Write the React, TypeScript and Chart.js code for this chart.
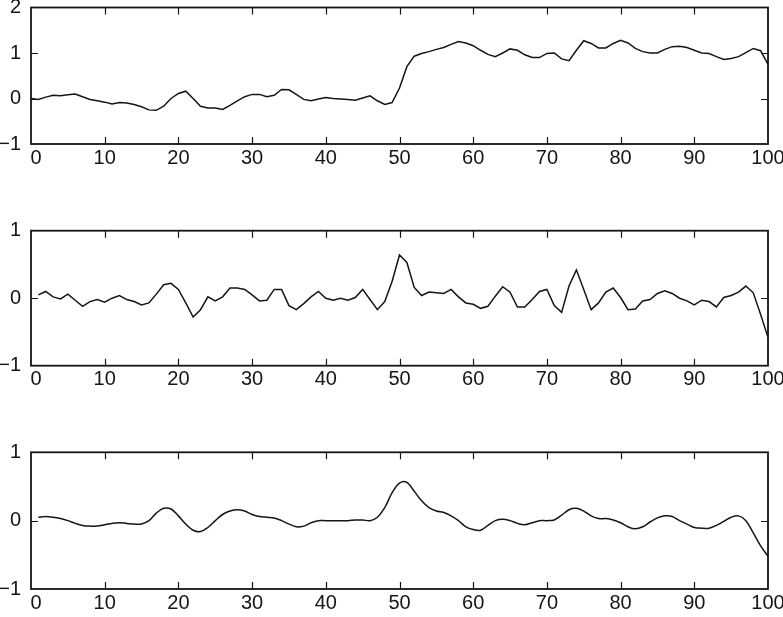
import React, { useEffect, useRef } from 'react';
import { Chart, registerables } from 'chart.js';

Chart.register(...registerables);

// x positions: panel 1 uses 0..100, panels 2 and 3 use 1..100
const xFull: number[] = Array.from({ length: 101 }, (_, i) => i);
const xFrom1: number[] = Array.from({ length: 100 }, (_, i) => i + 1);

const xTickLabels = ['0', '10', '20', '30', '40', '50', '60', '70', '80', '90', '100'];

// Panel 1: raw signal (x = 0..100)
const rawSeries: number[] = [
  0.0, -0.02, 0.03, 0.07, 0.06, 0.08, 0.1, 0.04, -0.02, -0.05,
  -0.08, -0.12, -0.09, -0.1, -0.13, -0.18, -0.25, -0.26, -0.17, 0.0,
  0.11, 0.16, 0.0, -0.17, -0.21, -0.21, -0.24, -0.15, -0.05, 0.04,
  0.09, 0.09, 0.04, 0.07, 0.2, 0.19, 0.09, -0.02, -0.05, -0.01,
  0.02, 0.0, -0.01, -0.02, -0.04, 0.01, 0.06, -0.05, -0.13, -0.09,
  0.23, 0.7, 0.93, 0.99, 1.03, 1.08, 1.12, 1.19, 1.25, 1.22,
  1.16, 1.06, 0.97, 0.92, 1.0, 1.09, 1.06, 0.96, 0.9, 0.9,
  0.99, 1.0, 0.87, 0.83, 1.06, 1.27, 1.21, 1.11, 1.11, 1.21,
  1.28, 1.22, 1.1, 1.03, 1.0, 1.0, 1.08, 1.14, 1.15, 1.12,
  1.06, 1.0, 0.99, 0.92, 0.86, 0.88, 0.92, 1.01, 1.1, 1.05,
  0.75,
];

// Panel 2: differenced signal (x = 1..100)
const diffSeries: number[] = [
  0.05, 0.1, 0.02, -0.01, 0.06, -0.03, -0.12, -0.05, -0.02, -0.06,
  0.0, 0.04, -0.02, -0.05, -0.1, -0.07, 0.06, 0.2, 0.22, 0.13,
  -0.07, -0.28, -0.17, 0.02, -0.04, 0.02, 0.15, 0.15, 0.13, 0.05,
  -0.04, -0.03, 0.13, 0.13, -0.11, -0.17, -0.08, 0.02, 0.1, 0.0,
  -0.03, 0.0, -0.03, 0.01, 0.13, -0.02, -0.17, -0.05, 0.25, 0.64,
  0.53, 0.16, 0.04, 0.09, 0.08, 0.07, 0.13, 0.02, -0.07, -0.09,
  -0.15, -0.12, 0.03, 0.17, 0.09, -0.13, -0.13, -0.02, 0.1, 0.13,
  -0.11, -0.21, 0.18, 0.42, 0.13, -0.17, -0.07, 0.09, 0.15, 0.01,
  -0.17, -0.16, -0.04, -0.02, 0.07, 0.11, 0.07, 0.0, -0.04, -0.1,
  -0.03, -0.05, -0.13, 0.01, 0.04, 0.09, 0.18, 0.08, -0.24, -0.58,
];

// Panel 3: smoothed signal (x = 1..100)
const smoothSeries: number[] = [
  0.05, 0.06, 0.05, 0.03, 0.0, -0.04, -0.07, -0.08, -0.08, -0.06,
  -0.04, -0.03, -0.04, -0.05, -0.05, 0.0, 0.11, 0.18, 0.17, 0.07,
  -0.05, -0.14, -0.16, -0.1, 0.0, 0.09, 0.14, 0.16, 0.14, 0.09,
  0.06, 0.05, 0.04, 0.0, -0.05, -0.09, -0.08, -0.03, 0.0, 0.0,
  0.0, 0.0, 0.0, 0.01, 0.01, 0.0, 0.05, 0.19, 0.41, 0.55,
  0.56, 0.43, 0.29, 0.19, 0.14, 0.12, 0.07, 0.0, -0.09, -0.13,
  -0.14, -0.07, 0.0, 0.02, 0.0, -0.04, -0.06, -0.03, 0.0, 0.0,
  0.01, 0.08, 0.16, 0.18, 0.14, 0.07, 0.03, 0.03, 0.01, -0.03,
  -0.09, -0.12, -0.09, -0.02, 0.04, 0.07, 0.06, 0.0, -0.05, -0.1,
  -0.11, -0.11, -0.07, -0.01, 0.05, 0.07, 0.0, -0.18, -0.37, -0.52,
];

const FONT = { family: '"Liberation Sans", Arial, Helvetica, sans-serif', size: 20 };
const INK = '#151515';
const W = 783;
const X_AXIS_H = 28;

type PanelCfg = {
  xs: number[];
  ys: number[];
  yMin: number;
  yMax: number;
  top: number;
  height: number;
  areaTop: number;
  areaBottom: number;
  tension: number;
};

const panels: PanelCfg[] = [
  { xs: xFull, ys: rawSeries, yMin: -1, yMax: 2, top: 0, height: 200, areaTop: 7.5, areaBottom: 144, tension: 0 },
  { xs: xFrom1, ys: diffSeries, yMin: -1, yMax: 1, top: 200, height: 210, areaTop: 30.7, areaBottom: 165.7, tension: 0 },
  { xs: xFrom1, ys: smoothSeries, yMin: -1, yMax: 1, top: 410, height: 207, areaTop: 42.3, areaBottom: 179, tension: 0.35 },
];

const fmt = (v: number) => (v < 0 ? '\u2212' + Math.abs(v) : String(v));

const framePlugin = {
  id: 'frameTicks',
  afterDraw(chart: any) {
    const { ctx, chartArea: a, scales } = chart;
    const L = 7;
    ctx.save();
    ctx.strokeStyle = INK;
    ctx.lineWidth = 1.2;
    ctx.beginPath();
    scales.x.ticks.forEach((t: any) => {
      const px = Math.round(scales.x.getPixelForValue(t.value)) + 0.5;
      if (px <= a.left + 1 || px >= a.right - 1) return;
      ctx.moveTo(px, a.bottom);
      ctx.lineTo(px, a.bottom - L);
      ctx.moveTo(px, a.top);
      ctx.lineTo(px, a.top + L);
    });
    scales.y.ticks.forEach((t: any) => {
      const py = Math.round(scales.y.getPixelForValue(t.value)) + 0.5;
      if (py <= a.top + 1 || py >= a.bottom - 1) return;
      ctx.moveTo(a.left, py);
      ctx.lineTo(a.left + L, py);
      ctx.moveTo(a.right, py);
      ctx.lineTo(a.right - L, py);
    });
    ctx.stroke();
    ctx.lineWidth = 1.8;
    ctx.strokeRect(a.left, a.top, a.right - a.left, a.bottom - a.top);
    ctx.restore();
  },
};

function Panel({ cfg }: { cfg: PanelCfg }) {
  const ref = useRef<HTMLCanvasElement | null>(null);
  useEffect(() => {
    if (!ref.current) return;
    const data = cfg.xs.map((x, i) => ({ x, y: cfg.ys[i] }));
    const chart = new Chart(ref.current, {
      type: 'line',
      data: {
        datasets: [
          {
            data,
            borderColor: INK,
            borderWidth: 1.5,
            pointRadius: 0,
            tension: cfg.tension,
            fill: false,
          },
        ],
      },
      options: {
        animation: false,
        responsive: false,
        devicePixelRatio: 1,
        events: [],
        layout: {
          padding: {
            left: 0,
            right: W - 768,
            top: cfg.areaTop,
            bottom: cfg.height - cfg.areaBottom - X_AXIS_H,
          },
        },
        plugins: { legend: { display: false }, tooltip: { enabled: false }, title: { display: false } },
        scales: {
          x: {
            type: 'linear',
            min: 0,
            max: 100,
            grid: { display: false, drawTicks: false },
            border: { display: false },
            ticks: {
              stepSize: 10,
              autoSkip: false,
              maxRotation: 0,
              padding: 2,
              color: INK,
              font: FONT,
              callback: (v: any) => {
                const idx = Math.round(Number(v) / 10);
                const label = xTickLabels[idx] ?? '';
                // first label sits just right of the origin, as in the original figure
                return idx === 0 ? '\u2002' + label : label;
              },
            },
            afterFit: (s: any) => {
              s.height = X_AXIS_H;
              s.paddingLeft = 0;
              s.paddingRight = 0;
            },
          },
          y: {
            type: 'linear',
            min: cfg.yMin,
            max: cfg.yMax,
            grid: { display: false, drawTicks: false },
            border: { display: false },
            ticks: {
              stepSize: 1,
              padding: 10,
              color: INK,
              font: FONT,
              callback: (v: any) => fmt(Number(v)),
            },
            afterFit: (s: any) => {
              s.width = 31;
              s.paddingTop = 0;
              s.paddingBottom = 0;
            },
          },
        },
      },
      plugins: [framePlugin],
    } as any);
    return () => chart.destroy();
  }, [cfg]);
  return (
    <canvas
      ref={ref}
      width={W}
      height={cfg.height}
      style={{ position: 'absolute', left: 0, top: cfg.top, width: W, height: cfg.height, display: 'block' }}
    />
  );
}

export default function App() {
  return (
    <div
      style={{
        position: 'absolute',
        left: 0,
        top: 0,
        width: W,
        height: 617,
        overflow: 'hidden',
        background: '#fff',
      }}
    >
      {panels.map((p, i) => (
        <Panel key={i} cfg={p} />
      ))}
    </div>
  );
}
